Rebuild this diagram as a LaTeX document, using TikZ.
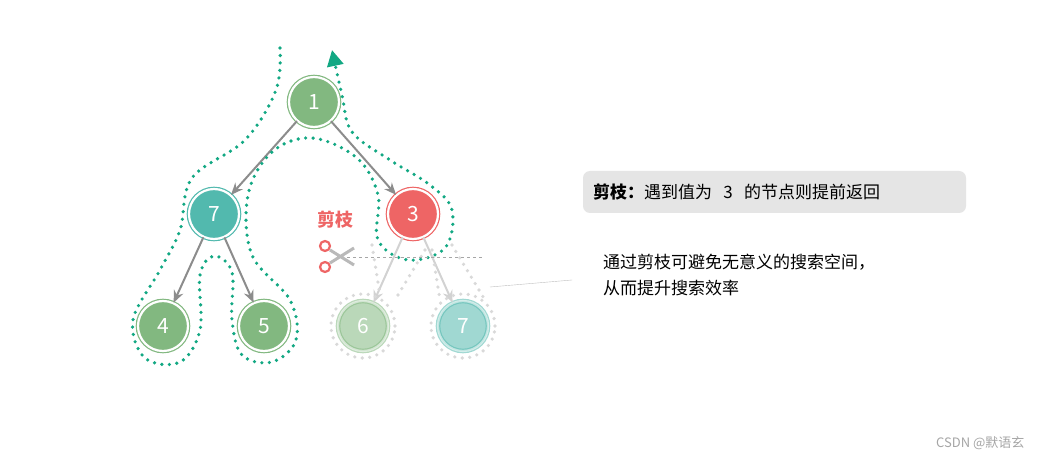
\documentclass[tikz,border=0pt]{standalone}
\usepackage{fontspec}
\setmainfont{Noto Sans CJK SC}
\usetikzlibrary{arrows.meta, positioning}
\definecolor{lgreen}{HTML}{82B880}
\definecolor{lteal}{HTML}{52B9AE}
\definecolor{lred}{HTML}{EE6565}
\definecolor{trail}{HTML}{12A883}
\tikzset{
	tnode/.style={circle, minimum size=50pt, inner sep=0pt, text=white, font=\fontsize{21}{24}\selectfont, double=white, double distance=2.2pt, line width=1.2pt},
	gnode/.style={tnode, fill=lgreen, draw=lgreen},
	cnode/.style={tnode, fill=lteal, draw=lteal},
	rnode/.style={tnode, fill=lred, draw=lred},
	edge/.style={-{Stealth[length=12pt, width=10pt]}, gray!90, line width=2pt},
	pruned/.style={-{Stealth[length=12pt, width=10pt]}, gray!35, line width=2pt},
	trailline/.style={trail, line width=3.6pt, dash pattern=on 0pt off 7.5pt, line cap=round},
	ghostline/.style={gray!30, line width=3.6pt, dash pattern=on 0pt off 7.5pt, line cap=round},
	bigtext/.style={font=\fontsize{17}{22}\selectfont}
}
\begin{document}
\begin{tikzpicture}[x=1pt, y=-1pt]
		\useasboundingbox[fill=white] (0,0) rectangle (1041,462);
			% tree
			\node[gnode] (n1) at (314,102) {1};
			\node[cnode] (n7) at (214,214) {7};
			\node[rnode] (n3) at (413,214) {3};
			\node[gnode] (n4) at (163,326) {4};
			\node[gnode] (n5) at (264,326) {5};
			\node[gnode, opacity=0.55, text opacity=1] (n6) at (363,326) {6};
			\node[cnode, opacity=0.55, text opacity=1] (n7b) at (463,326) {7};

			\draw[edge] (n1) -- (n7);
			\draw[edge] (n1) -- (n3);
			\draw[edge] (n7) -- (n4);
			\draw[edge] (n7) -- (n5);
			\draw[pruned] (n3) -- (n6);
			\draw[pruned] (n3) -- (n7b);

			%pruned subtree outline
			\draw[ghostline] (n6) circle (32pt);
			\draw[ghostline] (n7b) circle (32pt);
			\draw[ghostline] (372,245) -- (380,295);
			\draw[ghostline] (425,250) -- (395,300);
			\draw[ghostline] (432,250) -- (440,300);
			\draw[ghostline] (452,245) -- (485,300);

			%traversal
			\draw[trailline, -{Triangle[length=16pt, width=16pt, fill=trail]}] plot[smooth, tension=0.6] coordinates {
				(280,48) (276,90) (245,140) (192,178) (180,230) (160,270) (133,320) (145,358) (180,362) (200,330)
				(200,275) (214,256) (232,272) (232,320) (242,355) (272,362) (296,340) (290,300) (252,255) (248,195)
				(272,152) (312,138) (357,158) (378,195) (378,240) (408,260) (445,248) (452,210) (430,185) (390,160)
				(352,132) (342,95) (332,50)};

			%cut
			\node[text=lred, font=\fontsize{18}{20}\selectfont\bfseries] (cut) at (335,220) {剪枝};
			\coordinate (cutend) at (483,257);
			\draw[gray!70, dashed, thick] (347,257) -- (cutend);
			\draw[lred, line width=2.2pt] (325,246) circle (5pt) (325,267) circle (5pt);
			\draw[gray!55, line width=3pt] (330,263) -- (354,248) (330,250) -- (354,265);

			%callout
			\node[fill=gray!20, rounded corners=7pt, text width=363pt, align=left, inner xsep=10pt, minimum height=42pt, bigtext] (note) at (774.5,192)
				{\textbf{剪枝：}遇到值为 \ 3 \ 的节点则提前返回};
			\node[anchor=north west, align=left, bigtext, inner sep=0pt] (desc) at (603,254)
				{通过剪枝可避免无意义的搜索空间，\\[4pt]从而提升搜索效率};
			\coordinate (lnend) at (490,287);
			\draw[gray!50] (lnend) -- (572,280);

			\node[anchor=east, text=gray!70, font=\fontsize{13}{15}\selectfont] (mark) at (1028,443) {CSDN @默语玄};
	\end{tikzpicture}
\end{document}
